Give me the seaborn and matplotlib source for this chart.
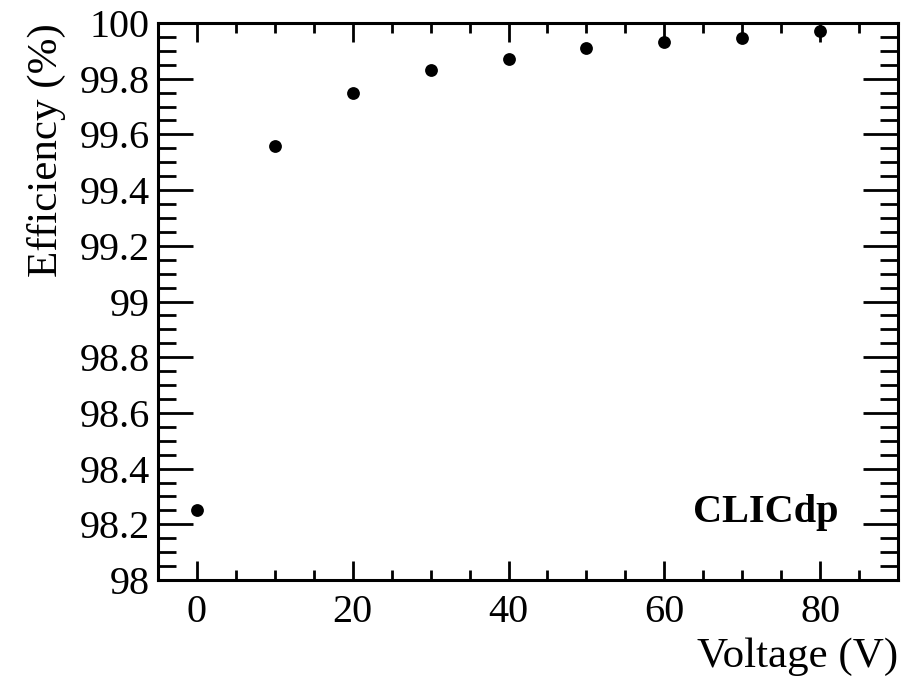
import matplotlib
matplotlib.use("Agg")
import matplotlib.pyplot as plt
from matplotlib.ticker import MultipleLocator
import seaborn as sns
import pandas as pd

voltage = [0, 10, 20, 30, 40, 50, 60, 70, 80]
efficiency = [98.25, 99.56, 99.75, 99.83, 99.87, 99.91, 99.93, 99.947, 99.97]

sns.set_style("ticks")
plt.rcParams['font.family'] = ['Liberation Serif', 'DejaVu Serif']
plt.rcParams['text.color'] = 'black'
plt.rcParams['axes.labelcolor'] = 'black'
plt.rcParams['xtick.color'] = 'black'
plt.rcParams['ytick.color'] = 'black'

df = pd.DataFrame({"Voltage": voltage, "Efficiency": efficiency})

fig = plt.figure(figsize=(9.12, 6.8), dpi=100)
ax = fig.add_axes([158/912, 1-580/680, (898-158)/912, (580-23)/680])

sns.scatterplot(data=df, x="Voltage", y="Efficiency", ax=ax, color="black",
                s=85, edgecolor="black", linewidth=0, zorder=5, clip_on=False)

ax.set_xlim(-5, 90)
ax.set_ylim(98, 100)
ax.xaxis.set_major_locator(MultipleLocator(20))
ax.xaxis.set_minor_locator(MultipleLocator(5))
ax.yaxis.set_major_locator(MultipleLocator(0.2))
ax.yaxis.set_minor_locator(MultipleLocator(0.05))
ax.yaxis.set_major_formatter(plt.FuncFormatter(lambda v, p: f"{v:g}"))

for s in ax.spines.values():
    s.set_linewidth(2.2)
    s.set_color("black")

ax.tick_params(axis='x', which='major', direction='in', length=14, width=2,
               top=True, bottom=True, labelsize=29, pad=10, colors='black')
ax.tick_params(axis='x', which='minor', direction='in', length=7, width=2,
               top=True, bottom=True)
ax.tick_params(axis='y', which='major', direction='in', length=25, width=2,
               left=True, right=True, labelsize=29, pad=6, colors='black')
ax.tick_params(axis='y', which='minor', direction='in', length=13, width=2,
               left=True, right=True)

ax.set_xlabel("Voltage (V)", fontsize=31, ha='right', va='top', color='black')
ax.xaxis.set_label_coords(1.0, -0.104)
ax.set_ylabel("Efficiency (%)", fontsize=31, ha='right', color='black')
ax.yaxis.set_label_coords(-0.125, 1.0)

ax.text(0.919, 0.122, "CLICdp", transform=ax.transAxes, fontsize=29,
        fontweight='bold', ha='right', va='center', color='black')

fig.savefig("out.png", dpi=100)
